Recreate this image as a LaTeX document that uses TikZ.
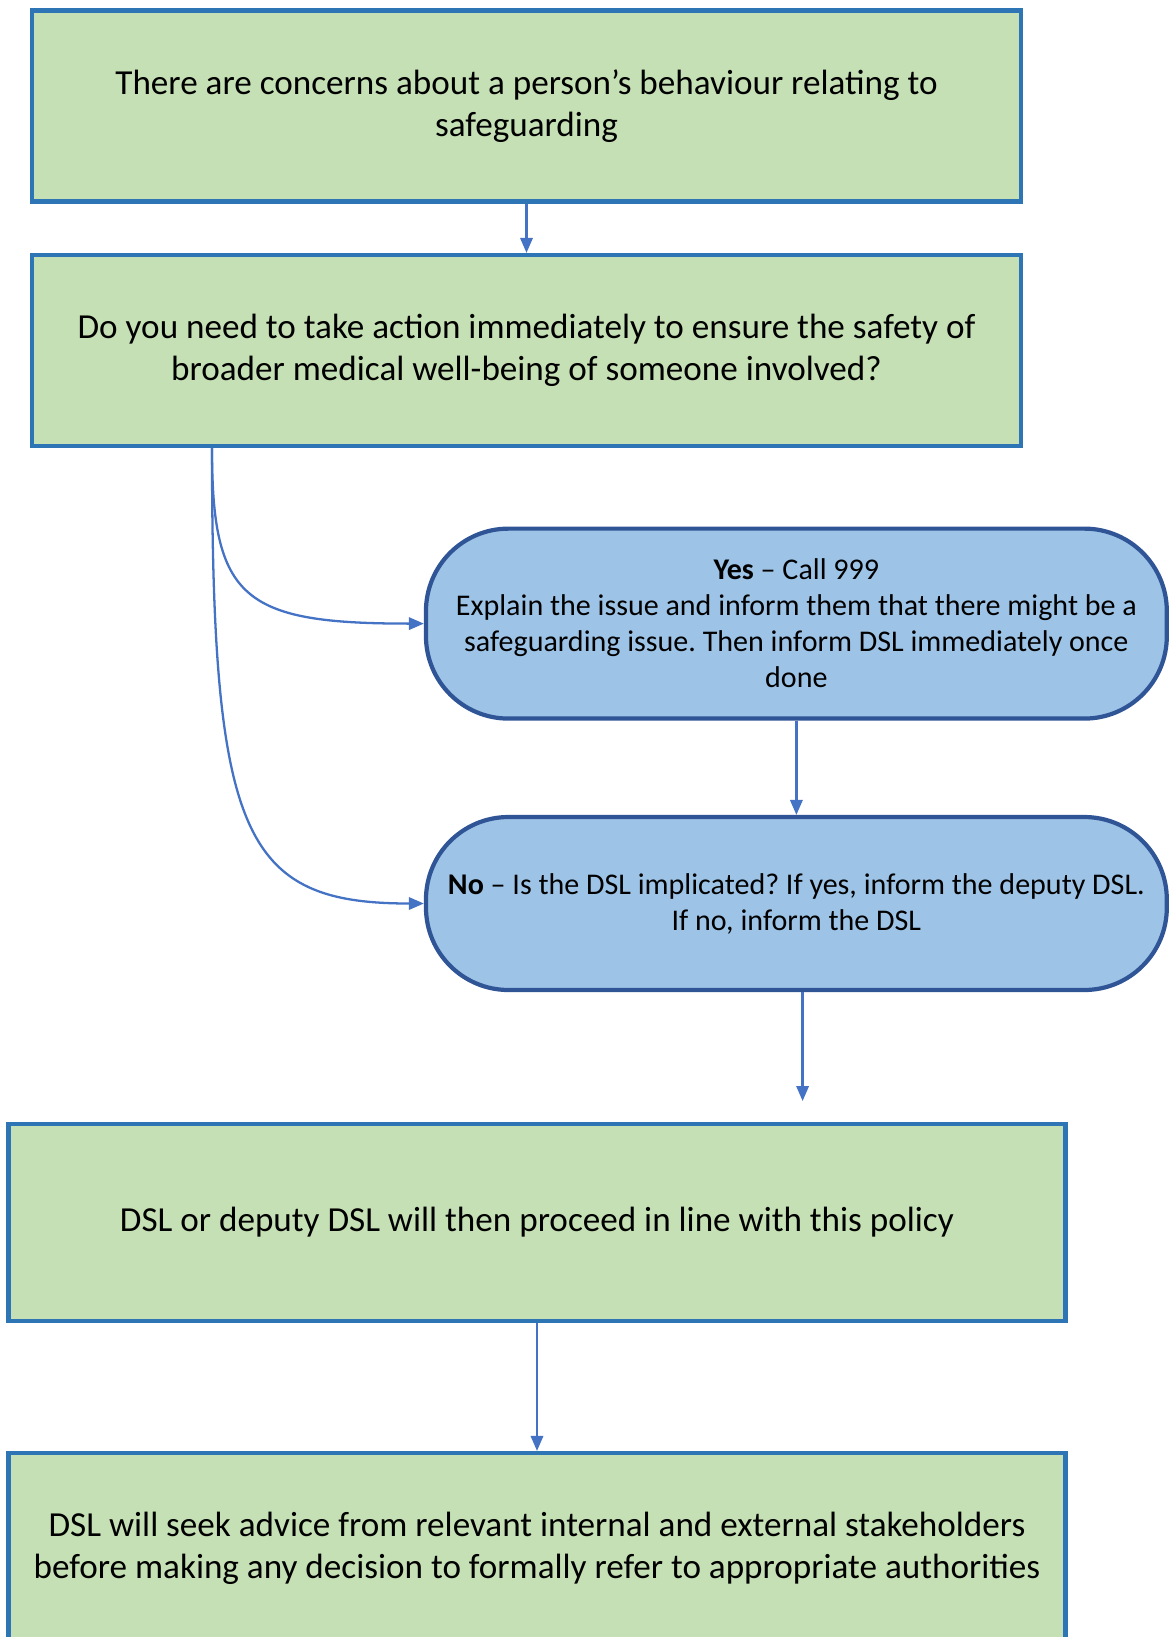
\documentclass[tikz,border=0pt]{standalone}
\usepackage{fontspec}
\setmainfont{Carlito}
\usepackage{tikz}
\usetikzlibrary{arrows.meta,positioning,calc}
\definecolor{boxgreen}{HTML}{C5E0B4}
\definecolor{boxblue}{HTML}{2E75B6}
\definecolor{pillfill}{HTML}{9DC3E6}
\definecolor{pilledge}{HTML}{2F5597}
\definecolor{arrowblue}{HTML}{4472C4}
\frenchspacing
\newcommand{\boxfont}{\fontsize{20}{23.7}\selectfont}
\newcommand{\pillfont}{\fontsize{17.1}{20.5}\selectfont}
\tikzset{
  >={Triangle[length=8.5pt,width=7pt]},
  gbox/.style ={rectangle, draw=boxblue, fill=boxgreen, line width=2.4pt,
                inner sep=0pt, font=\boxfont, align=center},
  pill/.style ={rectangle, rounded corners=1.65cm, draw=pilledge,
                fill=pillfill, line width=2.4pt, inner sep=0pt,
                minimum width=14.82cm, font=\pillfont, align=center},
  con/.style  ={->, draw=arrowblue, line width=1.3pt},
}
\begin{document}
\begin{tikzpicture}[x=0.02cm,y=-0.02cm]
\useasboundingbox (0,0) rectangle (1169,1637);

% --- boxes ----------------------------------------------------------
\node[gbox, minimum width=19.78cm, minimum height=3.82cm] (concern) at (526.5,106)
  {There are concerns about a person’s behaviour relating to\\safeguarding};
\node[gbox, minimum width=19.78cm, minimum height=3.82cm] (act) at (526.5,350.5)
  {Do you need to take action immediately to ensure the safety of\\broader medical well-being of someone involved?};
\node[pill, minimum height=3.8cm] (yes) at (796.4,623.6)
  {\textbf{Yes} – Call 999\\Explain the issue and inform them that there might be a\\safeguarding issue. Then inform DSL immediately once\\done};
\node[pill, minimum height=3.46cm] (no) at (796.4,903.5)
  {\textbf{No} – Is the DSL implicated? If yes, inform the deputy DSL.\\If no, inform the DSL};
\node[gbox, minimum width=21.14cm, minimum height=3.94cm] (proceed) at (537,1222.6)
  {DSL or deputy DSL will then proceed in line with this policy};
\node[gbox, minimum width=21.14cm, minimum height=3.8cm] (advice) at (537,1548)
  {DSL will seek advice from relevant internal and external stakeholders\\before making any decision to formally refer to appropriate authorities};

% --- helper points --------------------------------------------------
\coordinate (split) at (212,0);
\coordinate (ndrop) at (802.6,0);
\coordinate (nend)  at (802.6,1101);

% --- flow -----------------------------------------------------------
\draw[con] (concern) -- (act);
\draw[con] (act.south -| split) .. controls +(0,151) and +(-181,0) .. (yes.west);
\draw[con] (act.south -| split) .. controls +(0,389) and +(-181,0) .. (no.west);
\draw[con] (yes) -- (no);
\draw[con] (no.south -| ndrop) -- (nend);
\draw[con] (proceed) -- (advice);
\end{tikzpicture}
\end{document}
